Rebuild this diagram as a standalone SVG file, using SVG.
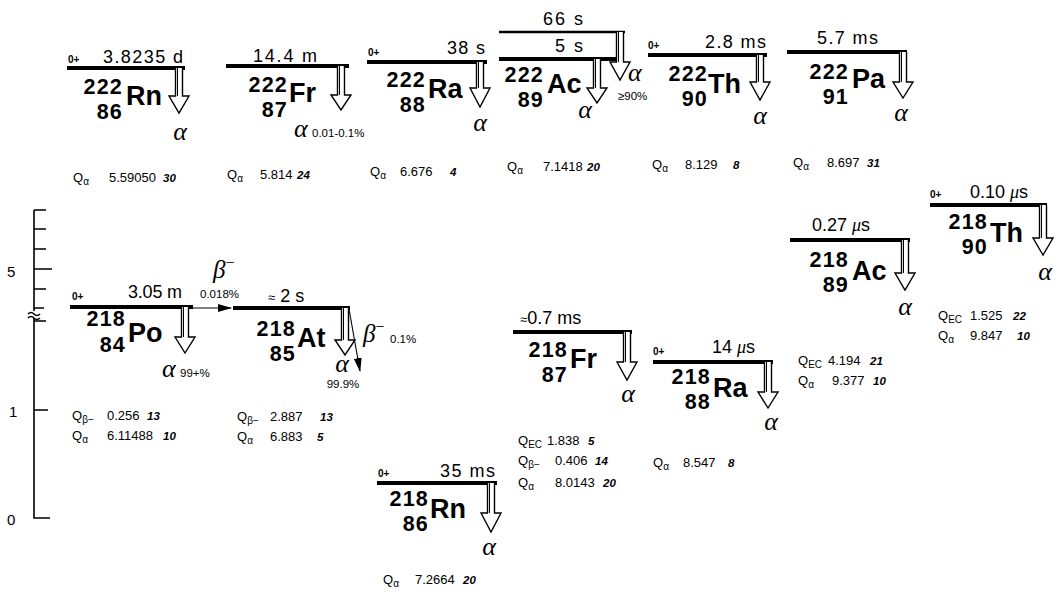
<svg xmlns="http://www.w3.org/2000/svg" width="1064" height="592" viewBox="0 0 1064 592">
<style>
.bg{fill:#fff}
.bar{stroke:#000;stroke-width:4;fill:none}
.bar2{stroke:#000;stroke-width:2.5;fill:none}
.hl{font-family:"Liberation Sans",Arial,sans-serif;font-size:18px;fill:#000}
.zero{font-family:"Liberation Sans",Arial,sans-serif;font-weight:bold;font-size:10px}
.A{font-family:"Liberation Sans",Arial,sans-serif;font-weight:bold;font-size:21.5px;letter-spacing:1.2px;text-anchor:end}
.sym{font-family:"Liberation Sans",Arial,sans-serif;font-weight:bold;font-size:27px}
.al{font-family:"Liberation Serif","Times New Roman",serif;font-style:italic;font-size:26px}
.alc{font-family:"Liberation Serif","Times New Roman",serif;font-style:italic;font-size:26px;text-anchor:middle}
.pct{font-family:"Liberation Sans",Arial,sans-serif;font-size:11.5px}
.q{font-family:"Liberation Sans",Arial,sans-serif;font-size:13px}
.qs{font-size:10px}
.v{font-family:"Liberation Sans",Arial,sans-serif;font-size:13px}
.u{font-family:"Liberation Sans",Arial,sans-serif;font-style:italic;font-weight:bold;font-size:11.5px}
.arr{fill:#fff;stroke:#000;stroke-width:1.4;stroke-linejoin:miter}
.in{stroke:#000;stroke-width:1;fill:none}
.ax{stroke:#000;stroke-width:1.6;fill:none}
.axl{font-family:"Liberation Sans",Arial,sans-serif;font-size:15px}
.con{stroke:#000;stroke-width:1.1;fill:none}
.beta{font-family:"Liberation Serif","Times New Roman",serif;font-style:italic;font-size:25px}
.mu{font-family:"Liberation Serif","Times New Roman",serif;font-style:italic}
</style>
<defs>
<marker id="ah" markerUnits="userSpaceOnUse" markerWidth="14" markerHeight="8" refX="13" refY="4" orient="auto">
<path d="M0,0 L14,4 L0,8 z" fill="#000"/>
</marker>
</defs>
<rect class="bg" x="0" y="0" width="1064" height="592"/>

<g id="axis">
<path class="ax" d="M34 210 V518 H50"/>
<path class="ax" d="M34 210 H46 M34 229 H46 M34 249 H46 M34 269 H52 M34 289 H46 M34 308 H44 M34 321 H46 M34 410 H48"/>
<rect x="28" y="311" width="12" height="7" fill="#fff"/>
<path class="ax" d="M28 314 q3 -3 6 0 t6 0 M28 318 q3 -3 6 0 t6 0"/>
<text class="axl" x="7" y="277">5</text>
<text class="axl" x="9" y="417">1</text>
<text class="axl" x="7" y="525">0</text>
</g>

<g id="connectors">
<line class="con" x1="193" y1="308" x2="231" y2="308" marker-end="url(#ah)"/>
<line class="con" x1="349" y1="309" x2="360" y2="371" marker-end="url(#ah)"/>
<text class="beta" x="213" y="278">β<tspan font-size="16" dy="-10" font-style="normal">−</tspan></text>
<text class="pct" x="200" y="298">0.018%</text>
<text class="beta" x="363" y="342">β<tspan font-size="16" dy="-10" font-style="normal">−</tspan></text>
<text class="pct" x="390" y="343" font-size="12.5">0.1%</text>
</g>

<g id="Rn222">
<line class="bar" x1="67" y1="68" x2="185" y2="68"/>
<text class="zero" x="68" y="63">0+</text>
<text class="hl" x="103" y="63" textLength="80">3.8235 d</text>
<text class="A"><tspan x="123" y="94">222</tspan><tspan x="123" y="118.5">86</tspan></text>
<text class="sym" x="126" y="105">Rn</text>
<path class="arr" d="M175.5 68 V96 H169 L179 113 L189 96 H182.5 V68"/>
<path class="in" d="M177.5 68 V96"/>
<text class="alc" x="180" y="140">α</text>
<text class="q" x="73" y="182">Q<tspan class="qs" dy="3">α</tspan></text>
<text class="v" x="109" y="182">5.59050</text>
<text class="u" x="163" y="182">30</text>
</g>

<g id="Fr222">
<line class="bar" x1="226" y1="66" x2="349" y2="66"/>
<text class="hl" x="253" y="62" textLength="64">14.4 m</text>
<text class="A"><tspan x="288" y="92">222</tspan><tspan x="288" y="116.5">87</tspan></text>
<text class="sym" x="289" y="102">Fr</text>
<path class="arr" d="M337.5 66 V95 H331 L341 110 L351 95 H344.5 V66"/>
<path class="in" d="M339.5 66 V95"/>
<text class="al" x="294" y="137">α</text>
<text class="pct" x="312" y="137">0.01-0.1%</text>
<text class="q" x="227" y="179">Q<tspan class="qs" dy="3">α</tspan></text>
<text class="v" x="260" y="179">5.814</text>
<text class="u" x="297" y="179">24</text>
</g>

<g id="Ra222">
<line class="bar" x1="367" y1="62" x2="487" y2="62"/>
<text class="zero" x="368" y="56">0+</text>
<text class="hl" x="447" y="54" textLength="38">38 s</text>
<text class="A"><tspan x="426" y="87">222</tspan><tspan x="426" y="111.5">88</tspan></text>
<text class="sym" x="428" y="98">Ra</text>
<path class="arr" d="M476.5 62 V88 H470 L480 107 L490 88 H483.5 V62"/>
<path class="in" d="M478.5 62 V88"/>
<text class="alc" x="480" y="131">α</text>
<text class="q" x="370" y="176">Q<tspan class="qs" dy="3">α</tspan></text>
<text class="v" x="400" y="176">6.676</text>
<text class="u" x="450" y="176">4</text>
</g>

<g id="Ac222">
<line class="bar2" x1="499" y1="32" x2="625" y2="32"/>
<line class="bar" x1="499" y1="59" x2="618" y2="59"/>
<text class="hl" x="543" y="25" textLength="40">66 s</text>
<text class="hl" x="555" y="52" textLength="28">5 s</text>
<text class="A"><tspan x="544" y="82">222</tspan><tspan x="544" y="106.5">89</tspan></text>
<text class="sym" x="547" y="93">Ac</text>
<path class="arr" d="M593.5 59 V88 H587 L597 103 L607 88 H600.5 V59"/>
<path class="in" d="M595.5 59 V88"/>
<path class="arr" d="M616.5 32 V62 H610 L620 80 L630 62 H623.5 V32"/>
<path class="in" d="M618.5 32 V62"/>
<text class="alc" x="585" y="118">α</text>
<text class="al" x="628" y="81">α</text>
<text class="pct" x="618" y="100">≥90%</text>
<text class="q" x="507" y="171">Q<tspan class="qs" dy="3">α</tspan></text>
<text class="v" x="543" y="171">7.1418</text>
<text class="u" x="587" y="171">20</text>
</g>

<g id="Th222">
<line class="bar" x1="648" y1="55" x2="767" y2="55"/>
<text class="zero" x="648" y="49">0+</text>
<text class="hl" x="705" y="48" textLength="61">2.8 ms</text>
<text class="A"><tspan x="708" y="81">222</tspan><tspan x="708" y="105.5">90</tspan></text>
<text class="sym" x="708" y="93">Th</text>
<path class="arr" d="M756.5 55 V82 H750 L760 100 L770 82 H763.5 V55"/>
<path class="in" d="M758.5 55 V82"/>
<text class="alc" x="760" y="124">α</text>
<text class="q" x="652" y="169">Q<tspan class="qs" dy="3">α</tspan></text>
<text class="v" x="685" y="169">8.129</text>
<text class="u" x="733" y="169">8</text>
</g>

<g id="Pa222">
<line class="bar" x1="787" y1="52" x2="907" y2="52"/>
<text class="hl" x="817" y="44" textLength="61">5.7 ms</text>
<text class="A"><tspan x="849" y="79">222</tspan><tspan x="849" y="103.5">91</tspan></text>
<text class="sym" x="852" y="88">Pa</text>
<path class="arr" d="M899.5 52 V82 H893 L903 98 L913 82 H906.5 V52"/>
<path class="in" d="M901.5 52 V82"/>
<text class="alc" x="901" y="121">α</text>
<text class="q" x="793" y="167">Q<tspan class="qs" dy="3">α</tspan></text>
<text class="v" x="827" y="167">8.697</text>
<text class="u" x="867" y="167">31</text>
</g>

<g id="Po218">
<line class="bar" x1="70" y1="307" x2="193" y2="307"/>
<text class="zero" x="72" y="300">0+</text>
<text class="hl" x="128" y="298" textLength="54">3.05 m</text>
<text class="A"><tspan x="126" y="326">218</tspan><tspan x="126" y="352">84</tspan></text>
<text class="sym" x="128" y="342">Po</text>
<path class="arr" d="M181.5 307 V337 H175 L185 353 L195 337 H188.5 V307"/>
<path class="in" d="M183.5 307 V337"/>
<text class="al" x="162" y="377">α</text>
<text class="pct" x="180" y="377" font-size="12">99+%</text>
<text class="q" x="72" y="420">Q<tspan class="qs" dy="3">β−</tspan></text>
<text class="v" x="107" y="420">0.256</text>
<text class="u" x="147" y="420">13</text>
<text class="q" x="72" y="440">Q<tspan class="qs" dy="3">α</tspan></text>
<text class="v" x="107" y="440">6.11488</text>
<text class="u" x="163" y="440">10</text>
</g>

<g id="At218">
<line class="bar" x1="233" y1="308" x2="350" y2="308"/>
<text class="hl" x="268" y="302"><tspan font-size="13">≈</tspan> 2 s</text>
<text class="A"><tspan x="296" y="336">218</tspan><tspan x="296" y="360.5">85</tspan></text>
<text class="sym" x="297" y="347">At</text>
<path class="arr" d="M341.5 308 V340 H335 L345 355 L355 340 H348.5 V308"/>
<path class="in" d="M343.5 308 V340"/>
<text class="alc" x="342" y="372">α</text>
<text class="pct" x="343" y="388" text-anchor="middle">99.9%</text>
<text class="q" x="237" y="421">Q<tspan class="qs" dy="3">β−</tspan></text>
<text class="v" x="270" y="421">2.887</text>
<text class="u" x="320" y="421">13</text>
<text class="q" x="237" y="441">Q<tspan class="qs" dy="3">α</tspan></text>
<text class="v" x="270" y="441">6.883</text>
<text class="u" x="317" y="441">5</text>
</g>

<g id="Fr218">
<line class="bar" x1="513" y1="332" x2="632" y2="332"/>
<text class="hl" x="520" y="324"><tspan font-size="13">≈</tspan>0.7 ms</text>
<text class="A"><tspan x="568" y="357">218</tspan><tspan x="568" y="381.5">87</tspan></text>
<text class="sym" x="570" y="368">Fr</text>
<path class="arr" d="M623.5 332 V362 H617 L627 380 L637 362 H630.5 V332"/>
<path class="in" d="M625.5 332 V362"/>
<text class="alc" x="628" y="402">α</text>
<text class="q" x="518" y="445">Q<tspan class="qs" dy="3">EC</tspan></text>
<text class="v" x="547" y="445">1.838</text>
<text class="u" x="588" y="445">5</text>
<text class="q" x="518" y="465">Q<tspan class="qs" dy="3">β−</tspan></text>
<text class="v" x="555" y="465">0.406</text>
<text class="u" x="595" y="465">14</text>
<text class="q" x="518" y="487">Q<tspan class="qs" dy="3">α</tspan></text>
<text class="v" x="555" y="487">8.0143</text>
<text class="u" x="603" y="487">20</text>
</g>

<g id="Rn218">
<line class="bar" x1="377" y1="483" x2="497" y2="483"/>
<text class="zero" x="378" y="477">0+</text>
<text class="hl" x="440" y="477" textLength="55">35 ms</text>
<text class="A"><tspan x="429" y="506">218</tspan><tspan x="429" y="530.5">86</tspan></text>
<text class="sym" x="430" y="518">Rn</text>
<path class="arr" d="M487.5 483 V513 H481 L491 532 L501 513 H494.5 V483"/>
<path class="in" d="M489.5 483 V513"/>
<text class="alc" x="489" y="555">α</text>
<text class="q" x="383" y="584">Q<tspan class="qs" dy="3">α</tspan></text>
<text class="v" x="415" y="584">7.2664</text>
<text class="u" x="463" y="584">20</text>
</g>

<g id="Ra218">
<line class="bar" x1="653" y1="362" x2="773" y2="362"/>
<text class="zero" x="653" y="355">0+</text>
<text class="hl" x="712" y="353">14 <tspan class="mu">μ</tspan>s</text>
<text class="A"><tspan x="711" y="384">218</tspan><tspan x="711" y="408.5">88</tspan></text>
<text class="sym" x="713" y="397">Ra</text>
<path class="arr" d="M764.5 362 V392 H758 L768 408 L778 392 H771.5 V362"/>
<path class="in" d="M766.5 362 V392"/>
<text class="alc" x="771" y="430">α</text>
<text class="q" x="653" y="467">Q<tspan class="qs" dy="3">α</tspan></text>
<text class="v" x="683" y="467">8.547</text>
<text class="u" x="728" y="467">8</text>
</g>

<g id="Ac218">
<line class="bar" x1="790" y1="240" x2="910" y2="240"/>
<text class="hl" x="812" y="231">0.27 <tspan class="mu">μ</tspan>s</text>
<text class="A"><tspan x="849" y="267">218</tspan><tspan x="849" y="291.5">89</tspan></text>
<text class="sym" x="852" y="280">Ac</text>
<path class="arr" d="M901.5 240 V273 H895 L905 290 L915 273 H908.5 V240"/>
<path class="in" d="M903.5 240 V273"/>
<text class="alc" x="905" y="315">α</text>
<text class="q" x="798" y="365">Q<tspan class="qs" dy="3">EC</tspan></text>
<text class="v" x="828" y="365">4.194</text>
<text class="u" x="870" y="365">21</text>
<text class="q" x="798" y="385">Q<tspan class="qs" dy="3">α</tspan></text>
<text class="v" x="832" y="385">9.377</text>
<text class="u" x="873" y="385">10</text>
</g>

<g id="Th218">
<line class="bar" x1="930" y1="205" x2="1047" y2="205"/>
<text class="zero" x="930" y="198">0+</text>
<text class="hl" x="970" y="198">0.10 <tspan class="mu">μ</tspan>s</text>
<text class="A"><tspan x="988" y="229">218</tspan><tspan x="988" y="253.5">90</tspan></text>
<text class="sym" x="990" y="242">Th</text>
<path class="arr" d="M1039.5 205 V238 H1033 L1043 255 L1053 238 H1046.5 V205"/>
<path class="in" d="M1041.5 205 V238"/>
<text class="alc" x="1045" y="280">α</text>
<text class="q" x="938" y="320">Q<tspan class="qs" dy="3">EC</tspan></text>
<text class="v" x="970" y="320">1.525</text>
<text class="u" x="1013" y="320">22</text>
<text class="q" x="938" y="340">Q<tspan class="qs" dy="3">α</tspan></text>
<text class="v" x="970" y="340">9.847</text>
<text class="u" x="1017" y="340">10</text>
</g>
</svg>
